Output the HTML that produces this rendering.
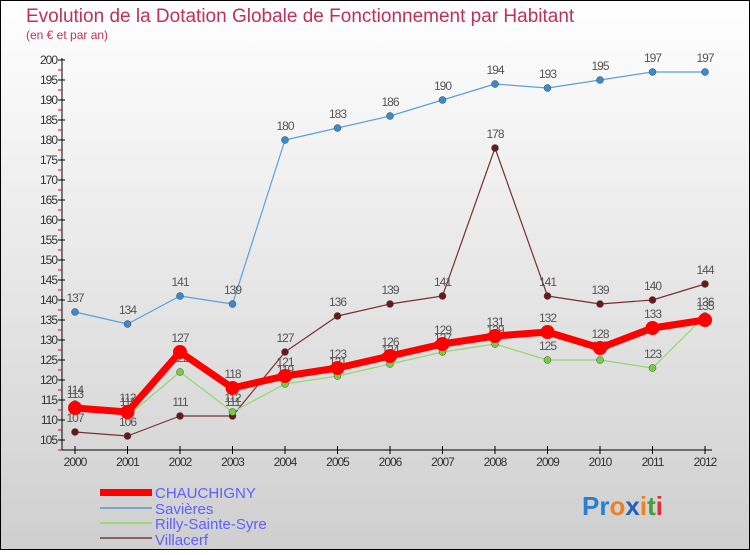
<!DOCTYPE html>
<html><head><meta charset="utf-8"><style>
body{margin:0}
svg text{font-family:"Liberation Sans",sans-serif}
</style></head><body>
<svg id="c" width="750" height="550" xmlns="http://www.w3.org/2000/svg">
<defs><linearGradient id="bg" x1="0" y1="0" x2="0" y2="1"><stop offset="0" stop-color="#ffffff"/><stop offset="1" stop-color="#cfcfcf"/></linearGradient></defs>
<rect x="0.5" y="0.5" width="749" height="549" fill="url(#bg)" stroke="#000"/>
<text x="26" y="22" font-size="19" fill="#c0305a">Evolution de la Dotation Globale de Fonctionnement par Habitant</text>
<text x="26" y="39" font-size="12" fill="#c0305a">(en € et par an)</text>
<g id="axes"></g><g id="series"></g>
<g>
<rect x="100" y="489" width="52" height="7" fill="#f00"/>
<text x="155" y="498" font-size="15" fill="#6060ff">CHAUCHIGNY</text>
<line x1="100" y1="508" x2="152" y2="508" stroke="#7aa6cc" stroke-width="2"/>
<text x="155" y="514" font-size="15" fill="#6060ff">Savières</text>
<line x1="100" y1="523" x2="152" y2="523" stroke="#9fd87a" stroke-width="2"/>
<text x="155" y="529" font-size="15" fill="#6060ff">Rilly-Sainte-Syre</text>
<line x1="100" y1="538" x2="152" y2="538" stroke="#8a6060" stroke-width="2"/>
<text x="155" y="545" font-size="15" fill="#6060ff">Villacerf</text>
</g>
<text x="582" y="515" font-size="26" font-weight="bold"><tspan fill="#2a7fd0">Pr</tspan><tspan fill="#f08020">o</tspan><tspan fill="#2060c0">x</tspan><tspan fill="#f08020">i</tspan><tspan fill="#40a040">t</tspan><tspan fill="#e03030">i</tspan></text>
</svg>
<script>
const years=[2000,2001,2002,2003,2004,2005,2006,2007,2008,2009,2010,2011,2012];
const chauchigny=[113,112,127,118,121,123,126,129,131,132,128,133,135];
const savieres=[137,134,141,139,180,183,186,190,194,193,195,197,197];
const rilly=[114,111,122,112,119,121,124,127,129,125,125,123,136];
const villacerf=[107,106,111,111,127,136,139,141,178,141,139,140,144];
const yTicks=[105,110,115,120,125,130,135,140,145,150,155,160,165,170,175,180,185,190,195,200];
const NS="http://www.w3.org/2000/svg";
const xs=i=>75+i*52.5, ys=v=>60+(200-v)*4;
function mk(t,a,p){const e=document.createElementNS(NS,t);for(const k in a)e.setAttribute(k,a[k]);p.appendChild(e);return e;}
const ax=document.getElementById('axes');
const yl=mk('line',{x1:62,y1:58,x2:62,y2:450,stroke:'#000'},ax);


const xl=mk('line',{x1:62,y1:450,x2:712,y2:450,stroke:'#000'},ax);


yTicks.forEach(v=>{
 mk('line',{x1:58,y1:ys(v),x2:65,y2:ys(v),stroke:'#000'},ax);
 mk('line',{x1:58,y1:ys(v)+10,x2:62,y2:ys(v)+10,stroke:'#f00'},ax);
 const t=mk('text',{x:57,y:ys(v)+4,'font-size':12,'text-anchor':'end',fill:'#333','letter-spacing':'-1'},ax);
 t.textContent=v;
 
 
});
years.forEach((y,i)=>{
 mk('line',{x1:xs(i),y1:446,x2:xs(i),y2:454,stroke:'#000'},ax);
 const t=mk('text',{x:xs(i),y:466,'font-size':12,'text-anchor':'middle',fill:'#333','letter-spacing':'-1'},ax);
 t.textContent=y;
 
 
});
const sg=document.getElementById('series');
function draw(data,name,color,w,r,dot){
 const g=mk('g',{},sg);
 
 
 const pl=mk('polyline',{points:data.map((v,i)=>xs(i)+','+ys(v)).join(' '),fill:'none',stroke:color,'stroke-width':w,'stroke-linejoin':'round'},g);
 
 
 data.forEach((v,i)=>{
  const c=mk('circle',{cx:xs(i),cy:ys(v),r:r,fill:dot,stroke:dot==='#f00'?'none':'#444','stroke-width':0.5},g);
  
  
  const t=mk('text',{x:xs(i),y:ys(v)-10,'font-size':12,'text-anchor':'middle',fill:'#555','letter-spacing':'-1'},g);
  t.textContent=v;
  
  
 });
}
draw(savieres,'savieres','#5aa0d8',1.2,3.5,'#3a8ad0');
draw(villacerf,'villacerf','#7a3030',1.2,3.5,'#6a1818');
draw(rilly,'rilly','#90d870',1.2,3.5,'#70d040');
draw(chauchigny,'chauchigny','#f00',7,7,'#f00');
</script>
</body></html>
